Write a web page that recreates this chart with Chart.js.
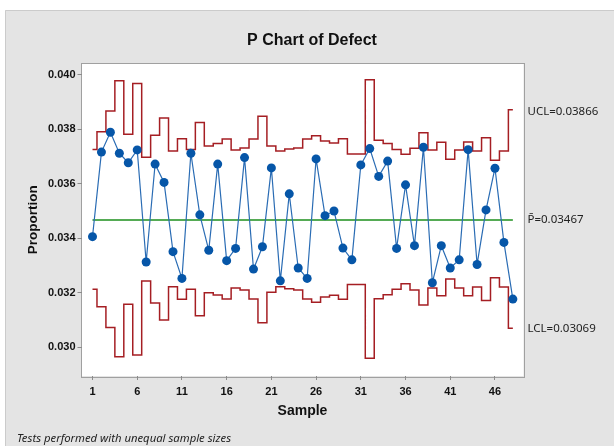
<!DOCTYPE html>
<html>
<head>
<meta charset="utf-8">
<script src="https://cdn.jsdelivr.net/npm/chart.js@4/dist/chart.umd.min.js"></script>
<style>
  body { margin: 0; background: #fff; }
  canvas { display: block; }
</style>
</head>
<body>
<canvas id="pChart" width="614" height="446"></canvas>
<script>
// proportion defective per sample
var proportion = [0.03406, 0.03716, 0.03789, 0.03712, 0.03677, 0.03724, 0.03313, 0.03672, 0.03605, 0.03351,
                  0.03253, 0.03712, 0.03486, 0.03356, 0.03672, 0.03318, 0.03363, 0.03696, 0.03287, 0.03369,
                  0.03658, 0.03244, 0.03563, 0.03291, 0.03253, 0.03691, 0.03483, 0.03500, 0.03364, 0.03321,
                  0.03669, 0.03729, 0.03627, 0.03683, 0.03363, 0.03596, 0.03373, 0.03734, 0.03237, 0.03373,
                  0.03291, 0.03321, 0.03725, 0.03304, 0.03504, 0.03657, 0.03385, 0.03177];
// control limits change per sample (unequal sample sizes)
var ucl = [0.03726, 0.03791, 0.03867, 0.03978, 0.03782, 0.03968, 0.03697, 0.03778, 0.03841, 0.03720,
           0.03765, 0.03726, 0.03825, 0.03738, 0.03748, 0.03764, 0.03724, 0.03731, 0.03764, 0.03848,
           0.03738, 0.03720, 0.03727, 0.03731, 0.03764, 0.03776, 0.03757, 0.03749, 0.03765, 0.03709,
           0.03709, 0.03981, 0.03760, 0.03748, 0.03726, 0.03708, 0.03730, 0.03787, 0.03724, 0.03752,
           0.03690, 0.03724, 0.03753, 0.03720, 0.03769, 0.03686, 0.03720, 0.03871];
var lcl = [0.03213, 0.03149, 0.03073, 0.02966, 0.03158, 0.02972, 0.03243, 0.03163, 0.03100, 0.03222,
           0.03176, 0.03213, 0.03116, 0.03200, 0.03192, 0.03177, 0.03218, 0.03210, 0.03177, 0.03090,
           0.03202, 0.03222, 0.03215, 0.03210, 0.03177, 0.03165, 0.03185, 0.03191, 0.03176, 0.03231,
           0.03231, 0.02960, 0.03178, 0.03193, 0.03213, 0.03233, 0.03210, 0.03155, 0.03218, 0.03189,
           0.03251, 0.03218, 0.03189, 0.03221, 0.03172, 0.03255, 0.03221, 0.03070];
var pBar = 0.03467;

// axis ticks
var xTicks = [1, 6, 11, 16, 21, 26, 31, 36, 41, 46];
var yTicks = [0.030, 0.032, 0.034, 0.036, 0.038, 0.040];
var yTickLabels = ['0.030', '0.032', '0.034', '0.036', '0.038', '0.040'];
var limitValues = [0.03069, 0.03467, 0.03866];
var limitLabels = ['LCL=0.03069', 'P\u0304=0.03467', 'UCL=0.03866'];

function toPoints(arr) {
    return arr.map(function (v, i) { return { x: i + 1, y: v }; });
}

// gray panel, white plot area, frame and footnote
var backdrop = {
    id: 'backdrop',
    beforeDraw: function (chart) {
        var c = chart.ctx, a = chart.chartArea;
        c.save();
        c.fillStyle = '#ffffff';
        c.fillRect(0, 0, chart.width, chart.height);
        c.fillStyle = '#e4e4e4';
        c.fillRect(5, 10, chart.width - 5, chart.height - 10);
        c.strokeStyle = '#cbcbcb';
        c.lineWidth = 1;
        c.beginPath();
        c.moveTo(5.5, chart.height);
        c.lineTo(5.5, 10.5);
        c.lineTo(chart.width, 10.5);
        c.stroke();
        c.fillStyle = '#ffffff';
        c.fillRect(a.left, a.top, a.right - a.left, a.bottom - a.top);
        c.strokeStyle = '#a0a0a0';
        c.strokeRect(Math.round(a.left) - 0.5, Math.round(a.top) - 0.5,
                     Math.round(a.right - a.left) + 1, Math.round(a.bottom - a.top) + 1);
        c.restore();
    },
    afterDraw: function (chart) {
        var c = chart.ctx;
        c.save();
        c.font = 'italic 11.3px "Noto Sans", "Open Sans", sans-serif';
        c.fillStyle = '#222';
        c.textBaseline = 'alphabetic';
        c.fillText('Tests performed with unequal sample sizes', 17, 442);
        c.restore();
    }
};

var ctx = document.getElementById('pChart').getContext('2d');
var chart = new Chart(ctx, {
    type: 'line',
    data: {
        datasets: [
            {
                label: 'Proportion',
                data: toPoints(proportion),
                borderColor: '#2a6cb4',
                borderWidth: 1.2,
                backgroundColor: '#0656a8',
                pointBackgroundColor: '#0656a8',
                pointBorderColor: '#0656a8',
                pointRadius: 4.5,
                pointBorderWidth: 0,
                order: 0
            },
            {
                label: 'UCL',
                data: toPoints(ucl),
                stepped: 'middle',
                borderColor: '#a51e23',
                borderWidth: 1.5,
                pointRadius: 0,
                order: 2
            },
            {
                label: 'LCL',
                data: toPoints(lcl),
                stepped: 'middle',
                borderColor: '#a51e23',
                borderWidth: 1.5,
                pointRadius: 0,
                order: 2
            },
            {
                label: 'P bar',
                data: [{ x: 1, y: pBar }, { x: proportion.length, y: pBar }],
                borderColor: '#55ab55',
                borderWidth: 2,
                pointRadius: 0,
                order: 1
            }
        ]
    },
    options: {
        responsive: false,
        animation: false,
        layout: { padding: { left: 10, right: 0, top: 10, bottom: 20 } },
        plugins: {
            legend: { display: false },
            tooltip: { enabled: false },
            title: {
                display: true,
                text: 'P Chart of Defect',
                color: '#111',
                font: { family: '"Liberation Sans", Arial, sans-serif', size: 16, weight: 'bold' },
                padding: { top: 21, bottom: 13.3 }
            }
        },
        scales: {
            x: {
                type: 'linear',
                min: -0.23,
                max: 49.19,
                afterBuildTicks: function (scale) {
                    scale.ticks = xTicks.map(function (v) { return { value: v }; });
                },
                afterFit: function (scale) { scale.height = 50; },
                grid: { drawOnChartArea: false, drawTicks: true, tickLength: 4, color: '#8c8c8c' },
                border: { display: false },
                ticks: {
                    autoSkip: false,
                    maxRotation: 0,
                    padding: 5,
                    color: '#111',
                    font: { family: '"Liberation Sans", Arial, sans-serif', size: 11, weight: 'bold' }
                },
                title: {
                    display: true,
                    text: 'Sample',
                    color: '#111',
                    padding: { top: 6, bottom: 6 },
                    font: { family: '"Liberation Sans", Arial, sans-serif', size: 14, weight: 'bold' }
                }
            },
            y: {
                min: 0.02895,
                max: 0.04041,
                afterBuildTicks: function (scale) {
                    scale.ticks = yTicks.map(function (v) { return { value: v }; });
                },
                afterFit: function (scale) { scale.width = 71.5; },
                grid: { drawOnChartArea: false, drawTicks: true, tickLength: 4, color: '#8c8c8c' },
                border: { display: false },
                ticks: {
                    padding: 2,
                    color: '#111',
                    font: { family: '"Liberation Sans", Arial, sans-serif', size: 11, weight: 'bold' },
                    callback: function (value, index) { return yTickLabels[index]; }
                },
                title: {
                    display: true,
                    text: 'Proportion',
                    color: '#111',
                    padding: { top: 15, bottom: 0 },
                    font: { family: '"Liberation Sans", Arial, sans-serif', size: 13.5, weight: 'bold' }
                }
            },
            y2: {
                position: 'right',
                min: 0.02895,
                max: 0.04041,
                afterBuildTicks: function (scale) {
                    scale.ticks = limitValues.map(function (v) { return { value: v }; });
                },
                afterFit: function (scale) { scale.width = 90.5; },
                grid: { display: false, drawTicks: false },
                border: { display: false },
                ticks: {
                    padding: 4,
                    color: '#222',
                    font: { family: '"Noto Sans", "Open Sans", sans-serif', size: 11.5 },
                    callback: function (value, index) { return limitLabels[index]; }
                }
            }
        }
    },
    plugins: [backdrop]
});
</script>
</body>
</html>
